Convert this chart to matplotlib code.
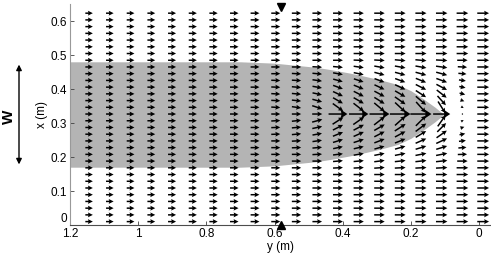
import numpy as np
import matplotlib
matplotlib.use('Agg')
import matplotlib.pyplot as plt

plt.rcParams['font.family'] = ['Liberation Sans', 'DejaVu Sans']

# grid of arrow positions (column centres along y, rows along x)
grid_y = np.linspace(1.144, -0.012, 20)
grid_x = np.linspace(0.01, 0.623, 32)
center_row = 16

# arrow length (px) of the undisturbed arrows, per column, left to right
col_len = [7.5, 7.6, 7.7, 7.8, 8.0, 8.1, 8.3, 8.5, 8.8, 9.0,
           9.3, 9.6, 9.9, 10.2, 10.5, 10.8, 11.1, 11.4, 11.6, 11.8]

# arrow angles (deg, on screen) near the tip: rows 25..7, columns 9..19
tip_ang = [
    [0, 0, 0, 0, 0, 0, 0, 0, 0, 0, 0],
    [0, 0, 0, 0, -2, -3, -5, -5, -3, 0, 0],
    [0, 0, -3, -5, -8, -10, -10, -10, -8, -3, 0],
    [0, -3, -5, -10, -12, -15, -15, -15, -15, -5, 0],
    [-2, -3, -8, -15, -18, -20, -20, -22, -20, -8, 0],
    [-2, -5, -10, -20, -22, -25, -25, -27, -28, -12, 0],
    [-3, -5, -12, -25, -27, -28, -30, -33, -38, -15, 0],
    [-3, -6, -15, -30, -30, -32, -35, -40, -48, -20, 0],
    [-3, -8, -18, -36, -38, -40, -43, -48, -58, -30, 0],
    [0, 0, 0, 0, 0, 0, 0, 0, 0, 0, 0],
    [3, 6, 15, 33, 35, 38, 42, 45, 55, 28, 0],
    [2, 5, 12, 27, 28, 30, 33, 37, 45, 18, 0],
    [2, 5, 10, 22, 24, 27, 28, 31, 35, 12, 0],
    [0, 3, 8, 17, 18, 21, 22, 24, 25, 7, 0],
    [0, 2, 5, 12, 13, 16, 16, 17, 17, 5, 0],
    [0, 0, 3, 7, 9, 11, 11, 11, 11, 2, 0],
    [0, 0, 0, 5, 5, 7, 6, 6, 6, 0, 0],
    [0, 0, 0, 3, 3, 4, 3, 3, 3, 0, 0],
    [0, 0, 0, 0, 0, 0, 0, 0, 0, 0, 0],
]

# length factors for the same block
tip_len = [
    [1, 1, 1, 1, 1, 1, 1, 1, 1, 1, 1],
    [1, 1, 1, 1, 1, 1, 1, 1, 1, 0.9, 1],
    [1, 1, 1, 1, 1, 1, 1, 1, 1, 0.8, 1],
    [1, 1, 1, 1, 1, 1, 1, 1, 1, 0.7, 1],
    [1, 1, 1, 1, 1, 1, 1, 1, 1, 0.6, 1],
    [1, 1, 1, 1.05, 1.05, 1.05, 1.05, 1.05, 1.05, 0.55, 1],
    [1, 1, 1, 1.1, 1.1, 1.1, 1.1, 1.1, 1.1, 0.5, 1],
    [1, 1, 1.05, 1.15, 1.15, 1.15, 1.2, 1.2, 1.1, 0.35, 1],
    [1, 1, 1.1, 1.3, 1.3, 1.3, 1.3, 1.3, 1.2, 0.25, 1],
    [1, 1, 1.05, 1.9, 1.9, 1.9, 1.9, 1.9, 1.5, 0.12, 1],
    [1, 1, 1.1, 1.3, 1.3, 1.3, 1.3, 1.3, 1.2, 0.25, 1],
    [1, 1, 1.05, 1.15, 1.15, 1.15, 1.2, 1.2, 1.1, 0.35, 1],
    [1, 1, 1, 1.1, 1.1, 1.1, 1.1, 1.1, 1.1, 0.5, 1],
    [1, 1, 1, 1.05, 1.05, 1.05, 1.05, 1.05, 1.05, 0.6, 1],
    [1, 1, 1, 1, 1, 1, 1, 1, 1, 0.7, 1],
    [1, 1, 1, 1, 1, 1, 1, 1, 1, 0.8, 1],
    [1, 1, 1, 1, 1, 1, 1, 1, 1, 0.9, 1],
    [1, 1, 1, 1, 1, 1, 1, 1, 1, 1, 1],
    [1, 1, 1, 1, 1, 1, 1, 1, 1, 1, 1],
]
tip_rows = list(range(25, 6, -1))
tip_cols = list(range(9, 20))

# outline of the grey body: position along y and half width
body_y = [1.2, 0.70, 0.60, 0.55, 0.48, 0.435, 0.38, 0.338, 0.29, 0.238, 0.20, 0.162, 0.13, 0.103]
body_hw = [0.155, 0.155, 0.151, 0.146, 0.139, 0.132, 0.122, 0.113, 0.102, 0.088, 0.070, 0.045, 0.022, 0.0]
body_mid = 0.325

marker_y = 0.58

# build arrow field
ang = np.zeros((len(grid_x), len(grid_y)))
mult = np.ones_like(ang)
for i, r in enumerate(tip_rows):
    for j, c in enumerate(tip_cols):
        ang[r, c] = tip_ang[i][j]
        mult[r, c] = tip_len[i][j]
L = np.array(col_len)[None, :] * mult
U = L * np.cos(np.radians(ang))
V = L * np.sin(np.radians(ang))
YY, XX = np.meshgrid(grid_y, grid_x)

# long arrows on the centre line get bigger heads (drawn separately)
big = mult > 1.4
small = ~big

fig = plt.figure(figsize=(4.91, 2.6), dpi=100)
ax = fig.add_axes([70 / 491, 35 / 260, 421 / 491, 221 / 260])

bx = np.array(body_y)
bh = np.array(body_hw)
ax.fill_between(bx, body_mid - bh, body_mid + bh, color='#b4b4b4', lw=0, zorder=1)

qkw = dict(angles='uv', scale_units='dots', scale=1, pivot='middle', units='dots',
           color='k', zorder=3)
ax.quiver(YY[small], XX[small], U[small], V[small],
          width=1.5, headwidth=3.3, headlength=3.3, headaxislength=2.9, **qkw)
ax.quiver(YY[big], XX[big], U[big], V[big],
          width=1.5, headwidth=6.0, headlength=4.5, headaxislength=4.0, **qkw)

ax.plot(marker_y, 0.64, 'kv', ms=6, clip_on=False, zorder=4)
ax.plot(marker_y, 0.0, 'k^', ms=6, clip_on=False, zorder=4)

ax.set_xlim(1.2, -0.035)
ax.set_ylim(0, 0.65)
ax.set_xticks([1.2, 1, 0.8, 0.6, 0.4, 0.2, 0])
ax.set_xticklabels(['1.2', '1', '0.8', '0.6', '0.4', '0.2', '0'])
ax.set_yticks([0, 0.1, 0.2, 0.3, 0.4, 0.5, 0.6])
ax.set_yticklabels(['0', '0.1', '0.2', '0.3', '0.4', '0.5', '0.6'])
ax.tick_params(direction='in', length=3, width=0.6, labelsize=8.5, pad=2, colors='0.25')
for lab in ax.get_xticklabels() + ax.get_yticklabels():
    lab.set_color('k')
ax.get_yticklabels()[0].set_va('bottom')
ax.set_xlabel('y (m)', fontsize=8.5, labelpad=1)
ax.set_ylabel('x (m)', fontsize=8.5, labelpad=2)
for s in ['top', 'right']:
    ax.spines[s].set_visible(False)
ax.spines['left'].set_color('0.6')
ax.spines['bottom'].set_color('0.3')
ax.patch.set_alpha(0)

# width indicator on the left
ax.annotate('', xy=(19 / 491, body_mid + body_hw[0]), xytext=(19 / 491, body_mid - body_hw[0]),
            xycoords=('figure fraction', 'data'), textcoords=('figure fraction', 'data'),
            arrowprops=dict(arrowstyle='<|-|>', color='k', lw=1.0, mutation_scale=8),
            annotation_clip=False)
fig.text(9 / 491, 1 - 117 / 260, 'W', rotation=90, fontsize=11, fontweight='bold',
         ha='center', va='center')

fig.savefig('out.png', dpi=100)
